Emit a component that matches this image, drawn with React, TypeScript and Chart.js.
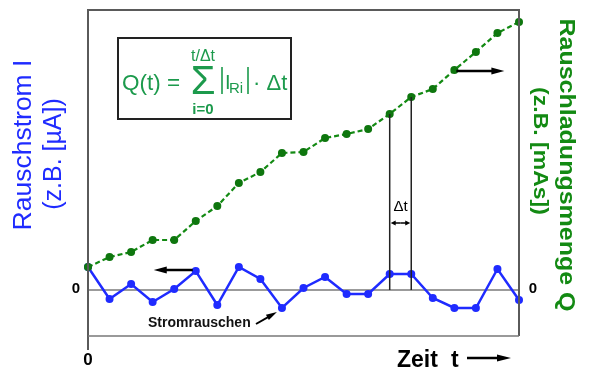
import { useEffect, useRef } from "react";
import { Chart, registerables } from "chart.js";

Chart.register(...registerables);

const TIME_STEPS = [0, 1, 2, 3, 4, 5, 6, 7, 8, 9, 10, 11, 12, 13, 14, 15, 16, 17, 18, 19, 20];
const NOISE_CURRENT = [2.3, -0.9, 0.6, -1.2, 0.1, 1.9, -1.5, 2.3, 1.1, -1.8, 0.2, 1.3, -0.4, -0.4, 1.6, 1.6, -0.8, -1.8, -1.8, 2.1, -1.0];
const NOISE_CHARGE = [2.3, 3.3, 3.8, 5.0, 5.0, 6.9, 8.4, 10.7, 11.8, 13.7, 13.8, 15.2, 15.6, 16.1, 17.6, 19.3, 20.1, 22.0, 23.8, 25.7, 26.8];
const LEFT_TITLE = ["Rauschstrom I", "(z.B. [µA])"];
const RIGHT_TITLE = ["Rauschladungsmenge Q", "(z.B. [mAs])"];
const X_TITLE = ["Zeit", "t"];
const ZERO_LABEL = "0";
const NOISE_LABEL = "Stromrauschen";
const DELTA_LABEL = "Δt";
const DELTA_INDEX = [14, 15];
const Y_MIN = -4.6;
const Y_MAX = 28;

const FONT = '"Liberation Sans", Arial, sans-serif';
const BLUE = "#1f2bff";
const GREEN = "#138a13";
const FORMULA_GREEN = "#1c9a4c";

function arrow(ctx: CanvasRenderingContext2D, x1: number, y1: number, x2: number, y2: number, hl = 12, hw = 4, lw = 2.5) {
  const a = Math.atan2(y2 - y1, x2 - x1);
  ctx.save();
  ctx.strokeStyle = "#000";
  ctx.fillStyle = "#000";
  ctx.lineWidth = lw;
  ctx.beginPath();
  ctx.moveTo(x1, y1);
  ctx.lineTo(x2 - Math.cos(a) * hl * 0.7, y2 - Math.sin(a) * hl * 0.7);
  ctx.stroke();
  ctx.translate(x2, y2);
  ctx.rotate(a);
  ctx.beginPath();
  ctx.moveTo(0, 0);
  ctx.lineTo(-hl, -hw);
  ctx.lineTo(-hl, hw);
  ctx.closePath();
  ctx.fill();
  ctx.restore();
}

const annotations = {
  id: "annotations",
  beforeDatasetsDraw(chart: any) {
    const { ctx, chartArea: ca, scales } = chart;
    const y0 = scales.y.getPixelForValue(0);
    ctx.save();
    ctx.strokeStyle = "#7a7a7a";
    ctx.lineWidth = 1.3;
    ctx.beginPath();
    ctx.moveTo(ca.left, y0);
    ctx.lineTo(ca.right, y0);
    ctx.stroke();
    ctx.restore();
  },
  afterDatasetsDraw(chart: any) {
    const { ctx, chartArea: ca, scales } = chart;
    const xs = scales.x;
    const ys = scales.y;
    const y1s = scales.y1;
    const y0 = ys.getPixelForValue(0);
    ctx.save();

    // frame
    ctx.strokeStyle = "#5a5a5a";
    ctx.lineWidth = 2;
    ctx.beginPath();
    ctx.moveTo(ca.left, ca.bottom + 14);
    ctx.lineTo(ca.left, ca.top);
    ctx.lineTo(ca.right, ca.top);
    ctx.lineTo(ca.right, ca.bottom);
    ctx.stroke();
    ctx.strokeStyle = "#777";
    ctx.lineWidth = 1.5;
    ctx.beginPath();
    ctx.moveTo(ca.left, ca.bottom);
    ctx.lineTo(ca.right, ca.bottom);
    ctx.stroke();

    // delta t lines
    ctx.strokeStyle = "#222";
    ctx.lineWidth = 1.5;
    const dx: number[] = [];
    DELTA_INDEX.forEach((i) => {
      const px = xs.getPixelForValue(TIME_STEPS[i]);
      dx.push(px);
      ctx.beginPath();
      ctx.moveTo(px, y1s.getPixelForValue(NOISE_CHARGE[i]));
      ctx.lineTo(px, y0);
      ctx.stroke();
    });
    const mid = (dx[0] + dx[1]) / 2;
    ctx.fillStyle = "#000";
    ctx.font = `15px ${FONT}`;
    ctx.textAlign = "center";
    ctx.textBaseline = "alphabetic";
    ctx.fillText(DELTA_LABEL, mid, 211);
    arrow(ctx, mid, 223, dx[1] - 1, 223, 5, 2.5, 1.5);
    arrow(ctx, mid, 223, dx[0] + 1, 223, 5, 2.5, 1.5);

    // arrows to axes
    const bx = xs.getPixelForValue(TIME_STEPS[5]);
    const by = ys.getPixelForValue(NOISE_CURRENT[5]);
    arrow(ctx, bx - 3, by - 1, bx - 42, by - 1, 13, 3.5, 2.5);
    const gx = xs.getPixelForValue(TIME_STEPS[17]);
    const gy = y1s.getPixelForValue(NOISE_CHARGE[17]);
    arrow(ctx, gx + 2, gy + 1, gx + 50, gy + 1, 13, 3.5, 2.5);

    // Stromrauschen
    ctx.font = `bold 14px ${FONT}`;
    ctx.textAlign = "left";
    ctx.textBaseline = "middle";
    ctx.fillStyle = "#111";
    ctx.fillText(NOISE_LABEL, 148, 323);
    const sx = xs.getPixelForValue(TIME_STEPS[9]);
    const sy = ys.getPixelForValue(NOISE_CURRENT[9]);
    arrow(ctx, 256, 324, sx - 5, sy + 4, 11, 3, 2);

    // zero labels
    ctx.font = `bold 15px ${FONT}`;
    ctx.textAlign = "center";
    ctx.fillStyle = "#000";
    ctx.fillText(ZERO_LABEL, 76, y0 - 1);
    ctx.fillText(ZERO_LABEL, ca.right + 14, y0 - 1);
    ctx.font = `bold 17px ${FONT}`;
    ctx.fillText(ZERO_LABEL, ca.left, 360);

    // x title
    ctx.font = `bold 23px ${FONT}`;
    ctx.textAlign = "left";
    ctx.textBaseline = "alphabetic";
    ctx.fillText(X_TITLE[0], 397, 367);
    ctx.fillText(X_TITLE[1], 451, 367);
    arrow(ctx, 467, 358, 511, 358, 14, 3.5, 2.5);

    // left title
    ctx.fillStyle = BLUE;
    ctx.textAlign = "center";
    ctx.textBaseline = "middle";
    ctx.save();
    ctx.translate(24, 145);
    ctx.rotate(-Math.PI / 2);
    ctx.font = `26.5px ${FONT}`;
    ctx.fillText(LEFT_TITLE[0], 0, 0);
    ctx.restore();
    ctx.save();
    ctx.translate(54, 154);
    ctx.rotate(-Math.PI / 2);
    ctx.font = `25px ${FONT}`;
    ctx.fillText(LEFT_TITLE[1], 0, 0);
    ctx.restore();

    // right title
    ctx.fillStyle = GREEN;
    ctx.save();
    ctx.translate(566, 165);
    ctx.rotate(Math.PI / 2);
    ctx.scale(1, 0.86);
    ctx.font = `bold 25px ${FONT}`;
    ctx.fillText(RIGHT_TITLE[0], 0, 0);
    ctx.restore();
    ctx.save();
    ctx.translate(539, 151);
    ctx.rotate(Math.PI / 2);
    ctx.scale(1, 0.86);
    ctx.font = `bold 23px ${FONT}`;
    ctx.fillText(RIGHT_TITLE[1], 0, 0);
    ctx.restore();

    // formula box
    ctx.strokeStyle = "#222";
    ctx.lineWidth = 2;
    ctx.strokeRect(118, 38, 173, 81);
    ctx.fillStyle = FORMULA_GREEN;
    ctx.strokeStyle = FORMULA_GREEN;
    ctx.textBaseline = "alphabetic";
    ctx.textAlign = "left";
    ctx.font = `22.5px ${FONT}`;
    ctx.fillText("Q(t) =", 122, 90);
    ctx.textAlign = "center";
    ctx.font = `40px ${FONT}`;
    ctx.fillText("Σ", 203, 94);
    ctx.font = `16px ${FONT}`;
    ctx.fillText("t/Δt", 203, 61);
    ctx.font = `bold 15px ${FONT}`;
    ctx.fillText("i=0", 203, 114);
    ctx.lineWidth = 1.6;
    ctx.beginPath();
    ctx.moveTo(222, 67);
    ctx.lineTo(222, 94);
    ctx.moveTo(248, 67);
    ctx.lineTo(248, 94);
    ctx.stroke();
    ctx.textAlign = "left";
    ctx.font = `20px ${FONT}`;
    ctx.fillText("I", 225, 89);
    ctx.font = `15px ${FONT}`;
    ctx.fillText("Ri", 229, 93);
    ctx.font = `22px ${FONT}`;
    ctx.fillText("· Δt", 253, 90);

    ctx.restore();
  },
};

export default function App() {
  const ref = useRef<HTMLCanvasElement>(null);
  useEffect(() => {
    if (!ref.current) return;
    const chart = new Chart(ref.current, {
      type: "line",
      data: {
        datasets: [
          {
            label: "Q",
            data: TIME_STEPS.map((t, i) => ({ x: t, y: NOISE_CHARGE[i] })),
            yAxisID: "y1",
            borderColor: GREEN,
            backgroundColor: "#0e760e",
            borderWidth: 2.2,
            borderDash: [5, 3],
            pointRadius: 4,
            pointBorderWidth: 0,
            tension: 0,
            clip: false as any,
          },
          {
            label: "I",
            data: TIME_STEPS.map((t, i) => ({ x: t, y: NOISE_CURRENT[i] })),
            yAxisID: "y",
            borderColor: BLUE,
            backgroundColor: BLUE,
            borderWidth: 2.5,
            pointRadius: 4,
            pointBorderWidth: 0,
            tension: 0,
            clip: false as any,
          },
        ],
      },
      options: {
        responsive: false,
        animation: false,
        layout: { padding: { left: 88, right: 73, top: 10, bottom: 36 } },
        plugins: { legend: { display: false }, tooltip: { enabled: false } },
        scales: {
          x: { type: "linear", min: 0, max: 20, display: false },
          y: { min: Y_MIN, max: Y_MAX, display: false },
          y1: { min: Y_MIN, max: Y_MAX, display: false, position: "right" },
        },
      },
      plugins: [annotations],
    });
    return () => chart.destroy();
  }, []);
  return (
    <div style={{ position: "fixed", left: 0, top: 0, width: 592, height: 372, background: "#fff" }}>
      <canvas ref={ref} width={592} height={372} style={{ display: "block" }} />
    </div>
  );
}
